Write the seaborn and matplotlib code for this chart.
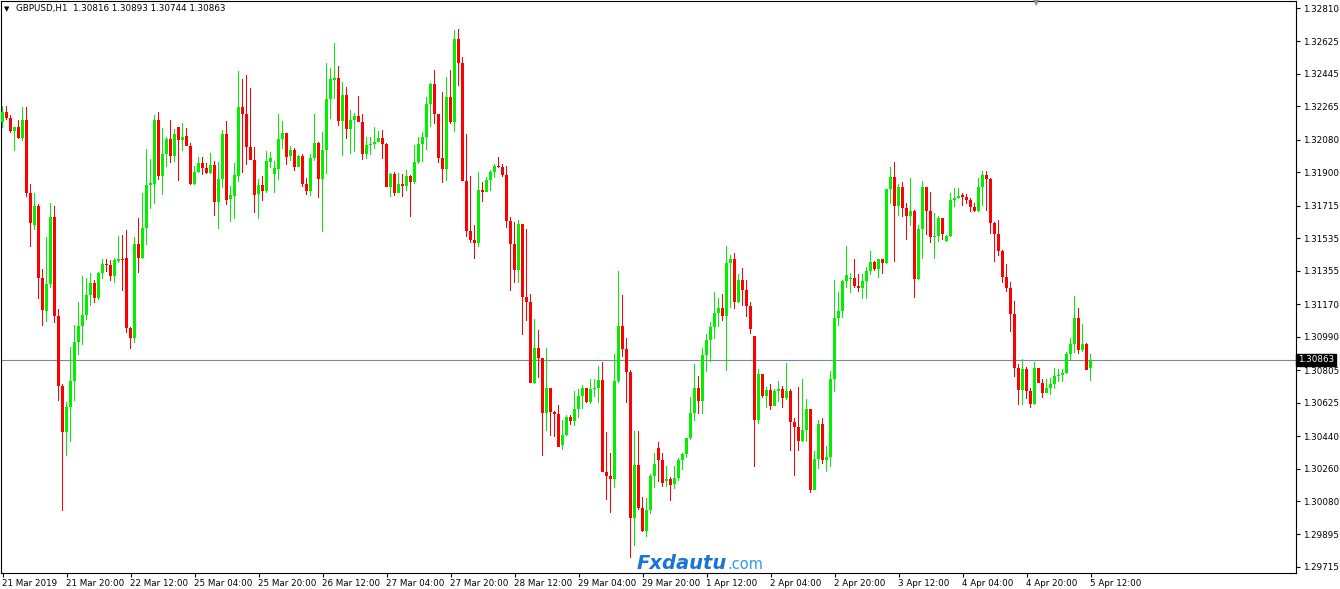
import numpy as np
import pandas as pd
import matplotlib
matplotlib.use("Agg")
import matplotlib.pyplot as plt
import matplotlib.transforms as mtransforms
import seaborn as sns

# ---------------------------------------------------------------
# GBPUSD H1 candles, 21 Mar 2019 -> 5 Apr 2019
# ---------------------------------------------------------------
symbol = "GBPUSD,H1"

opens = [
    1.32179, 1.32234, 1.32201, 1.32129, 1.32151, 1.32090, 1.32190, 1.31786, 1.31609, 1.31714,
    1.31315, 1.31132, 1.31282, 1.31653, 1.31105, 1.30717, 1.30462, 1.30601, 1.30745, 1.30961,
    1.31049, 1.31110, 1.31221, 1.31287, 1.31204, 1.31343, 1.31393, 1.31387, 1.31326, 1.31409,
    1.31420, 1.31426, 1.31038, 1.30983, 1.31503, 1.31426, 1.31592, 1.31830, 1.31836, 1.32190,
    1.31880, 1.32002, 1.32085, 1.31991, 1.32151, 1.32079, 1.32101, 1.32046, 1.31836, 1.31902,
    1.31952, 1.31924, 1.31896, 1.31941, 1.31736, 1.31863, 1.32112, 1.31752, 1.31769, 1.31880,
    1.32262, 1.32223, 1.32040, 1.31968, 1.31780, 1.31830, 1.31797, 1.31957, 1.31891, 1.31919,
    1.32085, 1.32118, 1.31991, 1.32024, 1.31930, 1.31991, 1.31836, 1.31797, 1.31980, 1.32063,
    1.31863, 1.32024, 1.32306, 1.32411, 1.32422, 1.32184, 1.32328, 1.32140, 1.32190, 1.32212,
    1.32179, 1.32002, 1.32051, 1.32057, 1.32068, 1.32090, 1.32057, 1.31819, 1.31891, 1.31786,
    1.31836, 1.31824, 1.31880, 1.31847, 1.31957, 1.32057, 1.32096, 1.32279, 1.32389, 1.32223,
    1.31980, 1.31919, 1.32317, 1.32179, 1.32638, 1.32506, 1.31852, 1.31575, 1.31525, 1.31509,
    1.31802, 1.31791, 1.31858, 1.31902, 1.31935, 1.31930, 1.31885, 1.31631, 1.31503, 1.31359,
    1.31614, 1.31210, 1.31182, 1.30734, 1.30927, 1.30872, 1.30568, 1.30706, 1.30573, 1.30562,
    1.30390, 1.30446, 1.30545, 1.30523, 1.30590, 1.30662, 1.30706, 1.30628, 1.30700, 1.30706,
    1.30750, 1.30241, 1.30219, 1.30202, 1.30745, 1.31049, 1.30922, 1.30795, 1.29986, 1.30280,
    1.30042, 1.29914, 1.30030, 1.30219, 1.30374, 1.30307, 1.30191, 1.30202, 1.30174, 1.30208,
    1.30307, 1.30341, 1.30429, 1.30568, 1.30706, 1.30634, 1.30889, 1.30972, 1.31044, 1.31121,
    1.31149, 1.31105, 1.31398, 1.31420, 1.31182, 1.31304, 1.31249, 1.31160, 1.30994, 1.30529,
    1.30784, 1.30662, 1.30695, 1.30606, 1.30689, 1.30700, 1.30651, 1.30689, 1.30518, 1.30490,
    1.30413, 1.30473, 1.30590, 1.30141, 1.30313, 1.30507, 1.30307, 1.30324, 1.30756, 1.31094,
    1.31132, 1.31298, 1.31310, 1.31315, 1.31271, 1.31260, 1.31298, 1.31354, 1.31404, 1.31365,
    1.31420, 1.31398, 1.31808, 1.31874, 1.31714, 1.31819, 1.31703, 1.31658, 1.31686, 1.31310,
    1.31586, 1.31819, 1.31686, 1.31542, 1.31548, 1.31647, 1.31520, 1.31548, 1.31747, 1.31758,
    1.31775, 1.31764, 1.31747, 1.31708, 1.31686, 1.31819, 1.31885, 1.31863, 1.31620, 1.31559,
    1.31465, 1.31321, 1.31260, 1.31116, 1.30817, 1.30695, 1.30811, 1.30689, 1.30617, 1.30817,
    1.30734, 1.30678, 1.30706, 1.30728, 1.30772, 1.30778, 1.30789, 1.30894, 1.30950, 1.31094,
    1.30916, 1.30950, 1.30816,
]

highs = [
    1.32267, 1.32267, 1.32218, 1.32151, 1.32190, 1.32262, 1.32262, 1.31836, 1.31786, 1.31725,
    1.31365, 1.31542, 1.31730, 1.31714, 1.31143, 1.30728, 1.30628, 1.30933, 1.31055, 1.31182,
    1.31326, 1.31315, 1.31343, 1.31304, 1.31348, 1.31420, 1.31420, 1.31415, 1.31426, 1.31548,
    1.31553, 1.31581, 1.31044, 1.31542, 1.31647, 1.31786, 1.32029, 1.31974, 1.32218, 1.32234,
    1.32146, 1.32096, 1.32190, 1.32140, 1.32151, 1.32173, 1.32146, 1.32063, 1.31935, 1.31985,
    1.31985, 1.31952, 1.32007, 1.31963, 1.31957, 1.32135, 1.32184, 1.31824, 1.31952, 1.32461,
    1.32417, 1.32439, 1.32367, 1.32040, 1.31863, 1.31880, 1.32018, 1.32013, 1.31963, 1.32223,
    1.32184, 1.32118, 1.32046, 1.32035, 1.31996, 1.32002, 1.31869, 1.32002, 1.32223, 1.32068,
    1.32123, 1.32506, 1.32478, 1.32616, 1.32489, 1.32400, 1.32373, 1.32245, 1.32229, 1.32323,
    1.32223, 1.32096, 1.32096, 1.32151, 1.32129, 1.32135, 1.32063, 1.31896, 1.31902, 1.31896,
    1.31891, 1.31913, 1.31885, 1.32051, 1.32096, 1.32123, 1.32317, 1.32395, 1.32467, 1.32223,
    1.32345, 1.32428, 1.32467, 1.32688, 1.32694, 1.32539, 1.32112, 1.31880, 1.31609, 1.31902,
    1.31847, 1.31874, 1.31913, 1.31946, 1.31985, 1.31946, 1.31935, 1.31653, 1.31625, 1.31636,
    1.31614, 1.31586, 1.31226, 1.31088, 1.31027, 1.30872, 1.30927, 1.30706, 1.30579, 1.30612,
    1.30529, 1.30556, 1.30556, 1.30689, 1.30700, 1.30723, 1.30706, 1.30756, 1.30756, 1.30828,
    1.30850, 1.30462, 1.30346, 1.30894, 1.31354, 1.31221, 1.30983, 1.30806, 1.30468, 1.30468,
    1.30102, 1.30097, 1.30230, 1.30346, 1.30407, 1.30346, 1.30274, 1.30213, 1.30274, 1.30318,
    1.30346, 1.30429, 1.30656, 1.30839, 1.30772, 1.30927, 1.31005, 1.31071, 1.31238, 1.31204,
    1.31226, 1.31492, 1.31442, 1.31453, 1.31337, 1.31370, 1.31304, 1.31182, 1.30994, 1.30811,
    1.30784, 1.30712, 1.30728, 1.30700, 1.30745, 1.30717, 1.30844, 1.30700, 1.30540, 1.30712,
    1.30756, 1.30645, 1.30590, 1.30357, 1.30529, 1.30540, 1.30385, 1.30800, 1.31304, 1.31238,
    1.31304, 1.31492, 1.31343, 1.31420, 1.31337, 1.31337, 1.31376, 1.31465, 1.31409, 1.31420,
    1.31420, 1.31808, 1.31930, 1.31957, 1.31836, 1.31847, 1.31730, 1.31869, 1.31692, 1.31609,
    1.31852, 1.31819, 1.31791, 1.31675, 1.31658, 1.31647, 1.31553, 1.31786, 1.31813, 1.31813,
    1.31786, 1.31780, 1.31758, 1.31730, 1.31869, 1.31908, 1.31908, 1.31869, 1.31625, 1.31636,
    1.31470, 1.31393, 1.31293, 1.31188, 1.30839, 1.30867, 1.30822, 1.30706, 1.30850, 1.30817,
    1.30756, 1.30756, 1.30761, 1.30817, 1.30811, 1.30811, 1.30905, 1.30983, 1.31215, 1.31149,
    1.31060, 1.30955, 1.30893,
]

lows = [
    1.32146, 1.32190, 1.32118, 1.32018, 1.32085, 1.32074, 1.31764, 1.31487, 1.31581, 1.31199,
    1.31049, 1.31071, 1.31260, 1.31066, 1.30634, 1.30025, 1.30329, 1.30407, 1.30634, 1.30889,
    1.30944, 1.31083, 1.31160, 1.31177, 1.31193, 1.31310, 1.31348, 1.31298, 1.31287, 1.31398,
    1.31243, 1.31011, 1.30922, 1.30955, 1.31343, 1.31420, 1.31498, 1.31697, 1.31725, 1.31858,
    1.31775, 1.31930, 1.31952, 1.31957, 1.31852, 1.32018, 1.32046, 1.31830, 1.31830, 1.31896,
    1.31885, 1.31891, 1.31891, 1.31658, 1.31586, 1.31813, 1.31719, 1.31625, 1.31642, 1.31847,
    1.31896, 1.31941, 1.31968, 1.31675, 1.31642, 1.31741, 1.31786, 1.31924, 1.31786, 1.31858,
    1.32029, 1.31941, 1.31963, 1.31908, 1.31930, 1.31819, 1.31775, 1.31769, 1.31963, 1.31758,
    1.31570, 1.31891, 1.32195, 1.32306, 1.32157, 1.31991, 1.32085, 1.32002, 1.32013, 1.32179,
    1.31968, 1.31974, 1.31996, 1.32029, 1.32068, 1.31974, 1.31819, 1.31764, 1.31769, 1.31786,
    1.31764, 1.31797, 1.31653, 1.31836, 1.31946, 1.31957, 1.32024, 1.32151, 1.32168, 1.31952,
    1.31841, 1.31852, 1.32168, 1.32123, 1.32378, 1.31852, 1.31542, 1.31509, 1.31420, 1.31487,
    1.31736, 1.31791, 1.31797, 1.31869, 1.31924, 1.31874, 1.31592, 1.31243, 1.31287, 1.31287,
    1.30999, 1.31077, 1.30734, 1.30728, 1.30761, 1.30329, 1.30468, 1.30440, 1.30435, 1.30379,
    1.30363, 1.30440, 1.30501, 1.30496, 1.30540, 1.30590, 1.30623, 1.30617, 1.30656, 1.30623,
    1.30241, 1.30086, 1.30014, 1.30152, 1.30734, 1.30878, 1.30623, 1.29765, 1.29831, 1.30030,
    1.29909, 1.29881, 1.30008, 1.30152, 1.30186, 1.30158, 1.30158, 1.30080, 1.30147, 1.30191,
    1.30252, 1.30318, 1.30418, 1.30523, 1.30562, 1.30562, 1.30795, 1.30850, 1.30977, 1.31044,
    1.31077, 1.30800, 1.31149, 1.31143, 1.31177, 1.31160, 1.31099, 1.31005, 1.30269, 1.30507,
    1.30651, 1.30595, 1.30584, 1.30606, 1.30628, 1.30595, 1.30640, 1.30357, 1.30219, 1.30357,
    1.30407, 1.30407, 1.30125, 1.30141, 1.30257, 1.30285, 1.30241, 1.30269, 1.30684, 1.31049,
    1.31094, 1.31260, 1.31232, 1.31260, 1.31238, 1.31199, 1.31199, 1.31332, 1.31354, 1.31315,
    1.31337, 1.31393, 1.31725, 1.31404, 1.31658, 1.31653, 1.31525, 1.31603, 1.31204, 1.31304,
    1.31420, 1.31553, 1.31509, 1.31420, 1.31514, 1.31525, 1.31514, 1.31542, 1.31708, 1.31752,
    1.31714, 1.31725, 1.31681, 1.31681, 1.31681, 1.31714, 1.31686, 1.31559, 1.31404, 1.31437,
    1.31287, 1.31238, 1.31016, 1.30767, 1.30612, 1.30612, 1.30645, 1.30595, 1.30612, 1.30734,
    1.30651, 1.30678, 1.30667, 1.30700, 1.30739, 1.30739, 1.30784, 1.30861, 1.30900, 1.30894,
    1.30905, 1.30806, 1.30744,
]

closes = [
    1.32234, 1.32201, 1.32129, 1.32151, 1.32090, 1.32190, 1.31786, 1.31620, 1.31714, 1.31315,
    1.31138, 1.31282, 1.31653, 1.31105, 1.30717, 1.30462, 1.30601, 1.30745, 1.30961, 1.31049,
    1.31110, 1.31221, 1.31287, 1.31204, 1.31343, 1.31393, 1.31387, 1.31326, 1.31415, 1.31420,
    1.31415, 1.31038, 1.30983, 1.31503, 1.31426, 1.31592, 1.31830, 1.31841, 1.32190, 1.31880,
    1.32002, 1.32085, 1.31991, 1.32112, 1.32079, 1.32096, 1.32046, 1.31836, 1.31902, 1.31952,
    1.31924, 1.31896, 1.31941, 1.31736, 1.31863, 1.32112, 1.31747, 1.31775, 1.31885, 1.32262,
    1.32223, 1.32040, 1.31968, 1.31775, 1.31830, 1.31797, 1.31963, 1.31980, 1.31924, 1.32085,
    1.32118, 1.31985, 1.32024, 1.31930, 1.31991, 1.31836, 1.31797, 1.31980, 1.32063, 1.31863,
    1.32024, 1.32306, 1.32417, 1.32422, 1.32184, 1.32328, 1.32140, 1.32190, 1.32212, 1.32179,
    1.32002, 1.32051, 1.32057, 1.32068, 1.32090, 1.32057, 1.31819, 1.31891, 1.31786, 1.31836,
    1.31824, 1.31880, 1.31847, 1.31957, 1.32057, 1.32096, 1.32279, 1.32389, 1.32223, 1.31980,
    1.31919, 1.32317, 1.32179, 1.32638, 1.32506, 1.31852, 1.31575, 1.31525, 1.31509, 1.31802,
    1.31791, 1.31858, 1.31902, 1.31935, 1.31930, 1.31885, 1.31631, 1.31503, 1.31359, 1.31614,
    1.31210, 1.31182, 1.30734, 1.30927, 1.30872, 1.30568, 1.30706, 1.30573, 1.30562, 1.30379,
    1.30446, 1.30545, 1.30523, 1.30590, 1.30662, 1.30706, 1.30628, 1.30700, 1.30706, 1.30750,
    1.30241, 1.30219, 1.30202, 1.30745, 1.31049, 1.30922, 1.30795, 1.29986, 1.30280, 1.30042,
    1.29914, 1.30030, 1.30219, 1.30285, 1.30307, 1.30180, 1.30202, 1.30169, 1.30208, 1.30307,
    1.30341, 1.30429, 1.30568, 1.30706, 1.30634, 1.30889, 1.30972, 1.31044, 1.31121, 1.31149,
    1.31105, 1.31398, 1.31420, 1.31182, 1.31304, 1.31249, 1.31160, 1.31033, 1.30529, 1.30784,
    1.30662, 1.30695, 1.30606, 1.30689, 1.30700, 1.30651, 1.30689, 1.30518, 1.30490, 1.30413,
    1.30473, 1.30590, 1.30141, 1.30313, 1.30507, 1.30307, 1.30324, 1.30756, 1.31094, 1.31132,
    1.31298, 1.31332, 1.31315, 1.31271, 1.31260, 1.31298, 1.31354, 1.31404, 1.31365, 1.31420,
    1.31398, 1.31808, 1.31874, 1.31714, 1.31819, 1.31703, 1.31658, 1.31686, 1.31310, 1.31586,
    1.31819, 1.31686, 1.31542, 1.31548, 1.31647, 1.31559, 1.31548, 1.31747, 1.31758, 1.31769,
    1.31764, 1.31747, 1.31708, 1.31686, 1.31819, 1.31885, 1.31863, 1.31620, 1.31559, 1.31465,
    1.31321, 1.31260, 1.31116, 1.30817, 1.30695, 1.30811, 1.30689, 1.30617, 1.30817, 1.30734,
    1.30678, 1.30706, 1.30728, 1.30772, 1.30778, 1.30789, 1.30894, 1.30950, 1.31094, 1.30916,
    1.30950, 1.30806, 1.30863,
]

# time axis labels (one every 16 bars)
x_labels = [
    "21 Mar 2019", "21 Mar 20:00", "22 Mar 12:00", "25 Mar 04:00", "25 Mar 20:00",
    "26 Mar 12:00", "27 Mar 04:00", "27 Mar 20:00", "28 Mar 12:00", "29 Mar 04:00",
    "29 Mar 20:00", "1 Apr 12:00", "2 Apr 04:00", "2 Apr 20:00", "3 Apr 12:00",
    "4 Apr 04:00", "4 Apr 20:00", "5 Apr 12:00",
]
x_label_bars = [0, 16, 32, 48, 64, 80, 96, 112, 128, 144, 160, 176, 192, 208, 224, 240, 256, 272]

y_ticks = [1.32810, 1.32625, 1.32445, 1.32265, 1.32080, 1.31900, 1.31715, 1.31535, 1.31355,
           1.31170, 1.30990, 1.30805, 1.30625, 1.30440, 1.30260, 1.30080, 1.29895, 1.29715]

BULL = "#00f000"
BEAR = "#ff0000"

# ---------------------------------------------------------------
df = pd.DataFrame({"open": opens, "high": highs, "low": lows, "close": closes})
df["bar"] = np.arange(len(df))
df["up"] = df["close"] >= df["open"]
last = df.iloc[-1]

sns.set_theme(style="white")
plt.rcParams["font.family"] = ["DejaVu Sans"]

fig = plt.figure(figsize=(13.4, 5.89), dpi=100)
fig.patch.set_facecolor("white")
ax = fig.add_axes([1 / 1340, 16 / 589, 1295 / 1340, 572 / 589])
ax.set_facecolor("white")

colors = np.where(df["up"], BULL, BEAR)

# wicks: 1 px wide bars from low to high
ax.bar(df["bar"], df["high"] - df["low"], bottom=df["low"], width=0.25,
       color=colors, linewidth=0, antialiased=False, zorder=2)
# bodies, 3 px wide; dojis get a 1 px body
body_lo = df[["open", "close"]].min(axis=1)
body_h = (df["close"] - df["open"]).abs().clip(lower=0.00005)
ax.bar(df["bar"], body_h, bottom=body_lo, width=0.75, color=colors,
       linewidth=0, antialiased=False, zorder=3)

# bid line + price tag
ax.axhline(last["close"], color="#7f8892", linewidth=0.8, zorder=1)
trans = mtransforms.blended_transform_factory(ax.transAxes, ax.transData)
ax.text(1.0015, last["close"], f"{last['close']:.5f}", transform=trans,
        ha="left", va="center", color="white", fontsize=6.3, zorder=10,
        clip_on=False,
        bbox=dict(boxstyle="square,pad=0.18", fc="black", ec="black"))

# 4 px per bar, bar centres on pixel centres
ax.set_xlim(-0.375, -0.375 + 1295 / 4)
ax.set_ylim(1.296816, 1.328488)

ax.yaxis.tick_right()
ax.set_yticks(y_ticks)
ax.set_yticklabels([f"{v:.5f}" for v in y_ticks])
ax.set_xticks(x_label_bars)
ax.set_xticklabels(x_labels, ha="left")
ax.tick_params(axis="both", direction="out", length=3, width=0.8, color="black",
               labelsize=6.3, labelcolor="black", pad=2)
ax.tick_params(axis="y", right=True, left=False)
ax.tick_params(axis="x", bottom=True, pad=1.5)

for s in ax.spines.values():
    s.set_color("black")
    s.set_linewidth(0.8)
ax.grid(False)

# header line
fig.text(4 / 1340, 1 - 9 / 589, "\u25bc", fontsize=5, color="black", va="center", ha="left")
fig.text(16 / 1340, 1 - 9 / 589,
         f"{symbol}  {last['open']:.5f} {last['high']:.5f} {last['low']:.5f} {last['close']:.5f}",
         fontsize=6.3, color="black", va="center", ha="left")

# small shift marker on top edge
fig.text(1036 / 1340, 1 - 3 / 589, "\u25bc", fontsize=6, color="#8a9099",
         va="center", ha="center")

# watermark
fig.text(727 / 1340, 1 - 569 / 589, "Fxdautu", fontsize=14, fontweight="bold",
         fontstyle="italic", color="#1b74d4", ha="right", va="baseline")
fig.text(727 / 1340, 1 - 569 / 589, ".com", fontsize=10.5, color="#2f9cf0",
         ha="left", va="baseline")

fig.savefig("out.png", dpi=100)
